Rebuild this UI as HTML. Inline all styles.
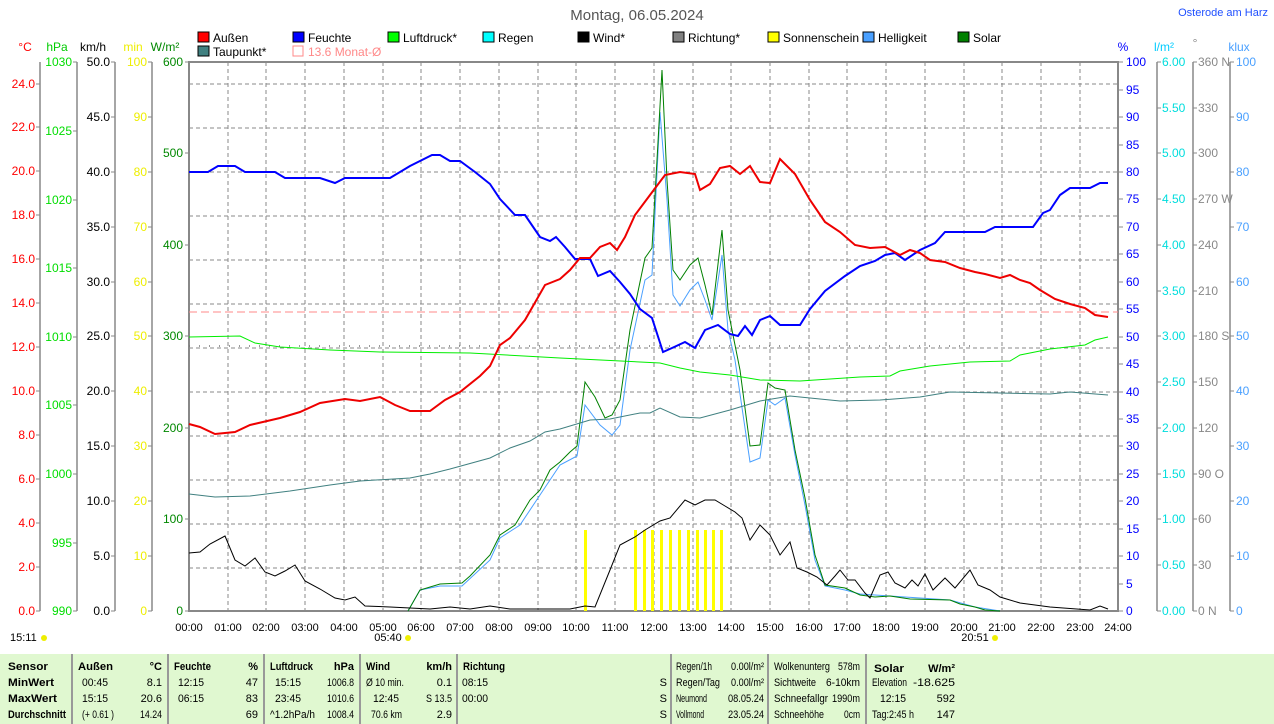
<!DOCTYPE html>
<html><head><meta charset="utf-8"><style>
html,body{margin:0;padding:0;background:#fff;}
svg{display:block;font-family:"Liberation Sans",sans-serif;}
</style></head><body>
<svg width="1274" height="724" viewBox="0 0 1274 724" xmlns="http://www.w3.org/2000/svg" font-size="12">
<rect width="1274" height="724" fill="#fff"/>
<text x="637" y="20" text-anchor="middle" font-size="15" fill="#555">Montag, 06.05.2024</text>
<text x="1268" y="16" text-anchor="end" font-size="11" fill="#2050ff">Osterode am Harz</text>

<g font-size="12" fill="#000">
<rect x="198" y="32" width="11" height="10" fill="#f00" stroke="#000"/><text x="213" y="42">Außen</text>
<rect x="293" y="32" width="11" height="10" fill="#00f" stroke="#000"/><text x="308" y="42">Feuchte</text>
<rect x="388" y="32" width="11" height="10" fill="#0f0" stroke="#000"/><text x="403" y="42">Luftdruck*</text>
<rect x="483" y="32" width="11" height="10" fill="#0ff" stroke="#000"/><text x="498" y="42">Regen</text>
<rect x="578" y="32" width="11" height="10" fill="#000" stroke="#000"/><text x="593" y="42">Wind*</text>
<rect x="673" y="32" width="11" height="10" fill="#808080" stroke="#000"/><text x="688" y="42">Richtung*</text>
<rect x="768" y="32" width="11" height="10" fill="#ff0" stroke="#000"/><text x="783" y="42">Sonnenschein</text>
<rect x="863" y="32" width="11" height="10" fill="#4aa0ff" stroke="#000"/><text x="878" y="42">Helligkeit</text>
<rect x="958" y="32" width="11" height="10" fill="#008000" stroke="#000"/><text x="973" y="42">Solar</text>
<rect x="198" y="46" width="11" height="10" fill="#408080" stroke="#000"/><text x="213" y="56">Taupunkt*</text>
<rect x="293" y="46" width="10" height="10" fill="none" stroke="#f88"/><text x="308" y="56" fill="#f88">13.6 Monat-Ø</text>
</g>

<text x="25" y="51" fill="#f00" text-anchor="middle">°C</text>
<text x="57" y="51" fill="#0c0" text-anchor="middle">hPa</text>
<text x="93" y="51" fill="#000" text-anchor="middle">km/h</text>
<text x="133" y="51" fill="#ee0" text-anchor="middle">min</text>
<text x="165" y="51" fill="#080" text-anchor="middle">W/m²</text>
<text x="1123" y="51" fill="#00f" text-anchor="middle">%</text>
<text x="1164" y="51" fill="#0cf" text-anchor="middle">l/m²</text>
<text x="1195" y="47" fill="#888" text-anchor="middle">°</text>
<text x="1239" y="51" fill="#4aa0ff" text-anchor="middle">klux</text>

<g stroke="#888" stroke-dasharray="4,3" stroke-width="1">
<line x1="228" y1="62" x2="228" y2="611"/><line x1="266" y1="62" x2="266" y2="611"/><line x1="305" y1="62" x2="305" y2="611"/><line x1="344" y1="62" x2="344" y2="611"/><line x1="383" y1="62" x2="383" y2="611"/><line x1="421" y1="62" x2="421" y2="611"/><line x1="460" y1="62" x2="460" y2="611"/><line x1="499" y1="62" x2="499" y2="611"/><line x1="538" y1="62" x2="538" y2="611"/><line x1="576" y1="62" x2="576" y2="611"/><line x1="615" y1="62" x2="615" y2="611"/><line x1="654" y1="62" x2="654" y2="611"/><line x1="693" y1="62" x2="693" y2="611"/><line x1="731" y1="62" x2="731" y2="611"/><line x1="770" y1="62" x2="770" y2="611"/><line x1="809" y1="62" x2="809" y2="611"/><line x1="847" y1="62" x2="847" y2="611"/><line x1="886" y1="62" x2="886" y2="611"/><line x1="925" y1="62" x2="925" y2="611"/><line x1="964" y1="62" x2="964" y2="611"/><line x1="1002" y1="62" x2="1002" y2="611"/><line x1="1041" y1="62" x2="1041" y2="611"/><line x1="1080" y1="62" x2="1080" y2="611"/>
<line x1="189" y1="84" x2="1118" y2="84"/><line x1="189" y1="128" x2="1118" y2="128"/><line x1="189" y1="172" x2="1118" y2="172"/><line x1="189" y1="216" x2="1118" y2="216"/><line x1="189" y1="260" x2="1118" y2="260"/><line x1="189" y1="304" x2="1118" y2="304"/><line x1="189" y1="348" x2="1118" y2="348"/><line x1="189" y1="392" x2="1118" y2="392"/><line x1="189" y1="436" x2="1118" y2="436"/><line x1="189" y1="480" x2="1118" y2="480"/><line x1="189" y1="524" x2="1118" y2="524"/><line x1="189" y1="568" x2="1118" y2="568"/>
</g>
<rect x="189" y="62" width="929" height="549" fill="none" stroke="#888" stroke-width="2"/>

<g stroke="#888" stroke-width="1.5">
<line x1="40" y1="62" x2="40" y2="611"/><line x1="77" y1="62" x2="77" y2="611"/><line x1="115" y1="62" x2="115" y2="611"/><line x1="152" y1="62" x2="152" y2="611"/>
<line x1="1157" y1="62" x2="1157" y2="611"/><line x1="1193" y1="62" x2="1193" y2="611"/><line x1="1230" y1="62" x2="1230" y2="611"/>
</g>
<!-- ticks -->
<g stroke="#888" stroke-width="1">
<path d="M36 611h4M36 567h4M36 523h4M36 479h4M36 435h4M36 391h4M36 347h4M36 303h4M36 259h4M36 215h4M36 171h4M36 127h4M36 84h4"/>
<path d="M73 611h4M73 543h4M73 474h4M73 405h4M73 337h4M73 268h4M73 200h4M73 131h4M73 62h4"/>
<path d="M111 611h4M111 556h4M111 501h4M111 446h4M111 391h4M111 336h4M111 282h4M111 227h4M111 172h4M111 117h4M111 62h4"/>
<path d="M148 611h4M148 556h4M148 501h4M148 446h4M148 391h4M148 336h4M148 282h4M148 227h4M148 172h4M148 117h4M148 62h4"/>
<path d="M185 611h4M185 519h4M185 428h4M185 336h4M185 245h4M185 153h4M185 62h4"/>
<path d="M1118 611h5M1118 584h5M1118 556h5M1118 529h5M1118 501h5M1118 474h5M1118 446h5M1118 419h5M1118 392h5M1118 364h5M1118 337h5M1118 309h5M1118 282h5M1118 254h5M1118 227h5M1118 199h5M1118 172h5M1118 145h5M1118 117h5M1118 90h5M1118 62h5"/>
<path d="M1157 611h4M1157 565h4M1157 519h4M1157 474h4M1157 428h4M1157 382h4M1157 336h4M1157 291h4M1157 245h4M1157 199h4M1157 153h4M1157 108h4M1157 62h4"/>
<path d="M1193 611h4M1193 565h4M1193 519h4M1193 474h4M1193 428h4M1193 382h4M1193 336h4M1193 291h4M1193 245h4M1193 199h4M1193 153h4M1193 108h4M1193 62h4"/>
<path d="M1230 611h4M1230 556h4M1230 501h4M1230 446h4M1230 391h4M1230 336h4M1230 282h4M1230 227h4M1230 172h4M1230 117h4M1230 62h4"/>
</g>
<g font-size="12" text-anchor="end" fill="#f00">
<text x="35" y="615">0.0</text><text x="35" y="571">2.0</text><text x="35" y="527">4.0</text><text x="35" y="483">6.0</text><text x="35" y="439">8.0</text><text x="35" y="395">10.0</text><text x="35" y="351">12.0</text><text x="35" y="307">14.0</text><text x="35" y="263">16.0</text><text x="35" y="219">18.0</text><text x="35" y="175">20.0</text><text x="35" y="131">22.0</text><text x="35" y="88">24.0</text>
</g>
<g font-size="12" text-anchor="end" fill="#0d0">
<text x="72" y="615">990</text><text x="72" y="547">995</text><text x="72" y="478">1000</text><text x="72" y="409">1005</text><text x="72" y="341">1010</text><text x="72" y="272">1015</text><text x="72" y="204">1020</text><text x="72" y="135">1025</text><text x="72" y="66">1030</text>
</g>
<g font-size="12" text-anchor="end" fill="#000">
<text x="110" y="615">0.0</text><text x="110" y="560">5.0</text><text x="110" y="505">10.0</text><text x="110" y="450">15.0</text><text x="110" y="395">20.0</text><text x="110" y="340">25.0</text><text x="110" y="286">30.0</text><text x="110" y="231">35.0</text><text x="110" y="176">40.0</text><text x="110" y="121">45.0</text><text x="110" y="66">50.0</text>
</g>
<g font-size="12" text-anchor="end" fill="#ee0">
<text x="147" y="615">0</text><text x="147" y="560">10</text><text x="147" y="505">20</text><text x="147" y="450">30</text><text x="147" y="395">40</text><text x="147" y="340">50</text><text x="147" y="286">60</text><text x="147" y="231">70</text><text x="147" y="176">80</text><text x="147" y="121">90</text><text x="147" y="66">100</text>
</g>
<g font-size="12" text-anchor="end" fill="#080">
<text x="183" y="615">0</text><text x="183" y="523">100</text><text x="183" y="432">200</text><text x="183" y="340">300</text><text x="183" y="249">400</text><text x="183" y="157">500</text><text x="183" y="66">600</text>
</g>
<g font-size="12" fill="#00f">
<text x="1126" y="615">0</text><text x="1126" y="588">5</text><text x="1126" y="560">10</text><text x="1126" y="533">15</text><text x="1126" y="505">20</text><text x="1126" y="478">25</text><text x="1126" y="450">30</text><text x="1126" y="423">35</text><text x="1126" y="396">40</text><text x="1126" y="368">45</text><text x="1126" y="341">50</text><text x="1126" y="313">55</text><text x="1126" y="286">60</text><text x="1126" y="258">65</text><text x="1126" y="231">70</text><text x="1126" y="203">75</text><text x="1126" y="176">80</text><text x="1126" y="149">85</text><text x="1126" y="121">90</text><text x="1126" y="94">95</text><text x="1126" y="66">100</text>
</g>
<g font-size="12" fill="#0dd">
<text x="1162" y="615">0.00</text><text x="1162" y="569">0.50</text><text x="1162" y="523">1.00</text><text x="1162" y="478">1.50</text><text x="1162" y="432">2.00</text><text x="1162" y="386">2.50</text><text x="1162" y="340">3.00</text><text x="1162" y="295">3.50</text><text x="1162" y="249">4.00</text><text x="1162" y="203">4.50</text><text x="1162" y="157">5.00</text><text x="1162" y="112">5.50</text><text x="1162" y="66">6.00</text>
</g>
<g font-size="12" fill="#888">
<text x="1198" y="615">0 N</text><text x="1198" y="569">30</text><text x="1198" y="523">60</text><text x="1198" y="478">90 O</text><text x="1198" y="432">120</text><text x="1198" y="386">150</text><text x="1198" y="340">180 S</text><text x="1198" y="295">210</text><text x="1198" y="249">240</text><text x="1198" y="203">270 W</text><text x="1198" y="157">300</text><text x="1198" y="112">330</text><text x="1198" y="66">360 N</text>
</g>
<g font-size="12" fill="#4aa0ff">
<text x="1236" y="615">0</text><text x="1236" y="560">10</text><text x="1236" y="505">20</text><text x="1236" y="450">30</text><text x="1236" y="395">40</text><text x="1236" y="340">50</text><text x="1236" y="286">60</text><text x="1236" y="231">70</text><text x="1236" y="176">80</text><text x="1236" y="121">90</text><text x="1236" y="66">100</text>
</g>

<g font-size="11" fill="#000" text-anchor="middle">
<text x="189" y="631">00:00</text><text x="228" y="631">01:00</text><text x="266" y="631">02:00</text><text x="305" y="631">03:00</text><text x="344" y="631">04:00</text><text x="383" y="631">05:00</text><text x="421" y="631">06:00</text><text x="460" y="631">07:00</text><text x="499" y="631">08:00</text><text x="538" y="631">09:00</text><text x="576" y="631">10:00</text><text x="615" y="631">11:00</text><text x="654" y="631">12:00</text><text x="693" y="631">13:00</text><text x="731" y="631">14:00</text><text x="770" y="631">15:00</text><text x="809" y="631">16:00</text><text x="847" y="631">17:00</text><text x="886" y="631">18:00</text><text x="925" y="631">19:00</text><text x="964" y="631">20:00</text><text x="1002" y="631">21:00</text><text x="1041" y="631">22:00</text><text x="1080" y="631">23:00</text><text x="1118" y="631">24:00</text>
<text x="388" y="641">05:40</text><text x="975" y="641">20:51</text>
</g>
<text x="10" y="641" font-size="11">15:11</text>
<circle cx="44" cy="638" r="3" fill="#ee0"/><circle cx="408" cy="638" r="3" fill="#ee0"/><circle cx="995" cy="638" r="3" fill="#ee0"/>

<line x1="189" y1="312" x2="1118" y2="312" stroke="#f88" stroke-dasharray="8,4"/>
<line x1="189" y1="346" x2="975" y2="346" stroke="#777" stroke-dasharray="1,9" stroke-width="1.5"/>

<g fill="#ff0">
<rect x="584" y="530" width="3" height="81"/><rect x="634" y="530" width="3" height="81"/><rect x="643" y="530" width="3" height="81"/><rect x="651" y="530" width="3" height="81"/><rect x="660" y="530" width="3" height="81"/><rect x="669" y="530" width="3" height="81"/><rect x="678" y="530" width="3" height="81"/><rect x="687" y="530" width="3" height="81"/><rect x="696" y="530" width="3" height="81"/><rect x="704" y="530" width="3" height="81"/><rect x="712" y="530" width="3" height="81"/><rect x="720" y="530" width="3" height="81"/>
</g>

<g fill="none" stroke-width="1">
<polyline stroke="#4aa0ff" points="408,611 420,590 440,586 462,586 490,560 500,538 520,525 540,495 560,465 577,456 585,405 600,425 612,435 620,425 630,350 645,280 652,275 660,112 667,200 673,295 680,306 690,290 698,282 705,300 712,320 722,255 728,330 735,360 750,462 760,458 768,400 775,405 785,398 795,455 805,505 815,560 825,586 845,590 860,594 890,596 950,600 975,607 1000,611"/>
<polyline stroke="#008000" points="408,611 420,590 440,584 462,583 470,576 490,555 500,535 515,525 530,500 540,490 550,470 560,462 570,452 577,446 585,382 595,397 605,418 612,415 620,400 630,330 645,258 652,248 657,160 662,70 667,180 673,270 680,280 690,265 698,258 705,285 712,315 722,230 728,310 735,345 740,370 750,446 760,445 768,383 775,388 785,390 795,450 805,498 815,555 825,585 845,588 860,595 875,597 890,596 910,599 950,600 960,604 975,607 985,610 1000,611"/>
<polyline stroke="#000" points="189,553 200,552 210,544 225,536 235,560 245,566 255,558 265,572 275,576 285,571 295,565 305,581 320,589 335,598 345,600 355,597 365,606 390,607 410,608 430,609 450,607 470,609 490,606 510,609 540,609 570,609 585,606 595,607 610,570 620,545 635,537 645,530 660,521 670,518 685,500 695,505 705,500 715,500 725,506 735,512 742,518 750,540 760,525 770,535 780,555 790,542 797,568 807,572 817,577 827,585 835,576 840,570 848,580 855,580 865,593 870,598 880,575 888,572 895,583 905,588 912,580 918,586 925,574 933,590 945,578 955,588 970,570 978,585 990,590 1000,597 1020,603 1050,607 1090,610 1100,606 1108,609"/>
<polyline stroke="#408080" points="189,494 215,497 250,496 290,491 330,485 360,481 410,478 430,474 450,469 490,458 510,448 530,441 545,432 560,429 590,420 610,419 640,413 650,413 660,408 680,417 700,418 730,410 760,401 790,396 810,398 840,401 880,400 920,397 950,392 1000,393 1050,394 1070,392 1108,395"/>
<polyline stroke="#0e0" points="189,337 240,336 255,343 280,347 330,350 380,352 470,353 560,358 660,363 680,368 700,372 730,375 760,380 800,381 860,377 890,376 900,371 930,366 970,362 1010,361 1020,355 1050,349 1085,345 1095,340 1108,337"/>
</g>
<g fill="none" stroke-width="2">
<polyline stroke="#00f" points="189,172 208,172 218,166 235,166 245,172 275,172 285,178 320,178 335,183 345,178 390,178 410,166 432,155 440,155 450,161 460,161 475,172 490,184 500,199 515,215 525,215 540,237 550,241 556,237 565,247 575,259 590,259 598,276 610,271 620,282 630,294 640,309 652,318 663,352 672,348 685,342 695,348 705,330 718,325 730,334 738,336 745,326 752,335 760,320 770,316 780,325 800,325 810,309 825,291 845,276 860,266 875,261 885,255 895,253 905,260 920,250 935,243 945,232 985,232 995,227 1033,227 1043,213 1050,210 1060,195 1070,188 1090,188 1100,183 1108,183"/>
<polyline stroke="#e00" points="189,424 200,427 215,434 235,432 250,425 280,418 300,412 320,403 345,399 360,401 380,397 395,405 410,411 430,411 445,400 460,392 480,376 490,366 500,345 510,338 525,320 545,285 560,279 570,270 580,258 590,258 600,247 610,243 617,250 625,237 635,215 650,195 665,175 680,172 695,174 700,190 710,184 720,168 730,166 740,174 750,166 760,182 770,183 780,159 795,174 810,200 825,222 840,232 855,245 870,248 885,247 900,255 910,250 920,253 930,260 945,262 960,268 975,272 985,274 1000,278 1010,275 1020,280 1030,283 1040,290 1055,299 1070,304 1085,308 1095,315 1108,317"/>
</g>

<rect x="0" y="654" width="1274" height="70" fill="#e0f8d0"/>
<g stroke="#999" stroke-width="2">
<line x1="72" y1="654" x2="72" y2="724"/><line x1="168" y1="654" x2="168" y2="724"/><line x1="264" y1="654" x2="264" y2="724"/><line x1="360" y1="654" x2="360" y2="724"/><line x1="457" y1="654" x2="457" y2="724"/><line x1="671" y1="654" x2="671" y2="724"/><line x1="768" y1="654" x2="768" y2="724"/><line x1="866" y1="654" x2="866" y2="724"/>
</g>
<g font-size="11" fill="#000" lengthAdjust="spacingAndGlyphs">
<g font-weight="bold">
<text x="8" y="670" textLength="40" lengthAdjust="spacingAndGlyphs">Sensor</text><text x="8" y="686" textLength="46" lengthAdjust="spacingAndGlyphs">MinWert</text><text x="8" y="702" textLength="49" lengthAdjust="spacingAndGlyphs">MaxWert</text><text x="8" y="718" textLength="58" lengthAdjust="spacingAndGlyphs">Durchschnitt</text>
<text x="78" y="670" textLength="35" lengthAdjust="spacingAndGlyphs">Außen</text><text x="162" y="670" text-anchor="end">°C</text>
<text x="174" y="670" textLength="37" lengthAdjust="spacingAndGlyphs">Feuchte</text><text x="258" y="670" text-anchor="end">%</text>
<text x="270" y="670" textLength="43" lengthAdjust="spacingAndGlyphs">Luftdruck</text><text x="354" y="670" text-anchor="end">hPa</text>
<text x="366" y="670" textLength="24" lengthAdjust="spacingAndGlyphs">Wind</text><text x="452" y="670" text-anchor="end">km/h</text>
<text x="463" y="670" textLength="42" lengthAdjust="spacingAndGlyphs">Richtung</text>
<text x="874" y="672" textLength="30" lengthAdjust="spacingAndGlyphs">Solar</text><text x="955" y="672" text-anchor="end">W/m²</text>
</g>
<text x="82" y="686" textLength="26" lengthAdjust="spacingAndGlyphs">00:45</text><text x="162" y="686" text-anchor="end">8.1</text>
<text x="82" y="702" textLength="26" lengthAdjust="spacingAndGlyphs">15:15</text><text x="162" y="702" text-anchor="end">20.6</text>
<text x="82" y="718" textLength="32" lengthAdjust="spacingAndGlyphs">(+ 0.61 )</text><text x="140" y="718" textLength="22" lengthAdjust="spacingAndGlyphs">14.24</text>
<text x="178" y="686" textLength="26" lengthAdjust="spacingAndGlyphs">12:15</text><text x="258" y="686" text-anchor="end">47</text>
<text x="178" y="702" textLength="26" lengthAdjust="spacingAndGlyphs">06:15</text><text x="258" y="702" text-anchor="end">83</text>
<text x="258" y="718" text-anchor="end">69</text>
<text x="275" y="686" textLength="26" lengthAdjust="spacingAndGlyphs">15:15</text><text x="327" y="686" textLength="27" lengthAdjust="spacingAndGlyphs">1006.8</text>
<text x="275" y="702" textLength="26" lengthAdjust="spacingAndGlyphs">23:45</text><text x="327" y="702" textLength="27" lengthAdjust="spacingAndGlyphs">1010.6</text>
<text x="270" y="718" textLength="45" lengthAdjust="spacingAndGlyphs">^1.2hPa/h</text><text x="327" y="718" textLength="27" lengthAdjust="spacingAndGlyphs">1008.4</text>
<text x="366" y="686" textLength="38" lengthAdjust="spacingAndGlyphs">Ø 10 min.</text><text x="452" y="686" text-anchor="end">0.1</text>
<text x="373" y="702" textLength="26" lengthAdjust="spacingAndGlyphs">12:45</text><text x="426" y="702" textLength="26" lengthAdjust="spacingAndGlyphs">S 13.5</text>
<text x="371" y="718" textLength="31" lengthAdjust="spacingAndGlyphs">70.6 km</text><text x="452" y="718" text-anchor="end">2.9</text>
<text x="462" y="686" textLength="26" lengthAdjust="spacingAndGlyphs">08:15</text><text x="462" y="702" textLength="26" lengthAdjust="spacingAndGlyphs">00:00</text>
<text x="667" y="686" text-anchor="end">S</text><text x="667" y="702" text-anchor="end">S</text><text x="667" y="718" text-anchor="end">S</text>
<text x="676" y="670" textLength="36" lengthAdjust="spacingAndGlyphs">Regen/1h</text><text x="731" y="670" textLength="33" lengthAdjust="spacingAndGlyphs">0.00l/m²</text>
<text x="676" y="686" textLength="44" lengthAdjust="spacingAndGlyphs">Regen/Tag</text><text x="731" y="686" textLength="33" lengthAdjust="spacingAndGlyphs">0.00l/m²</text>
<text x="676" y="702" textLength="31" lengthAdjust="spacingAndGlyphs">Neumond</text><text x="728" y="702" textLength="36" lengthAdjust="spacingAndGlyphs">08.05.24</text>
<text x="676" y="718" textLength="28" lengthAdjust="spacingAndGlyphs">Vollmond</text><text x="728" y="718" textLength="36" lengthAdjust="spacingAndGlyphs">23.05.24</text>
<text x="774" y="670" textLength="56" lengthAdjust="spacingAndGlyphs">Wolkenunterg</text><text x="838" y="670" textLength="22" lengthAdjust="spacingAndGlyphs">578m</text>
<text x="774" y="686" textLength="42" lengthAdjust="spacingAndGlyphs">Sichtweite</text><text x="826" y="686" textLength="34" lengthAdjust="spacingAndGlyphs">6-10km</text>
<text x="774" y="702" textLength="54" lengthAdjust="spacingAndGlyphs">Schneefallgr</text><text x="832" y="702" textLength="28" lengthAdjust="spacingAndGlyphs">1990m</text>
<text x="774" y="718" textLength="50" lengthAdjust="spacingAndGlyphs">Schneehöhe</text><text x="844" y="718" textLength="16" lengthAdjust="spacingAndGlyphs">0cm</text>
<text x="872" y="686" textLength="35" lengthAdjust="spacingAndGlyphs">Elevation</text><text x="913" y="686" textLength="42" lengthAdjust="spacingAndGlyphs">-18.625</text>
<text x="880" y="702" textLength="26" lengthAdjust="spacingAndGlyphs">12:15</text><text x="955" y="702" text-anchor="end">592</text>
<text x="872" y="718" textLength="42" lengthAdjust="spacingAndGlyphs">Tag:2:45 h</text><text x="955" y="718" text-anchor="end">147</text>
</g>
</svg>
</body></html>
